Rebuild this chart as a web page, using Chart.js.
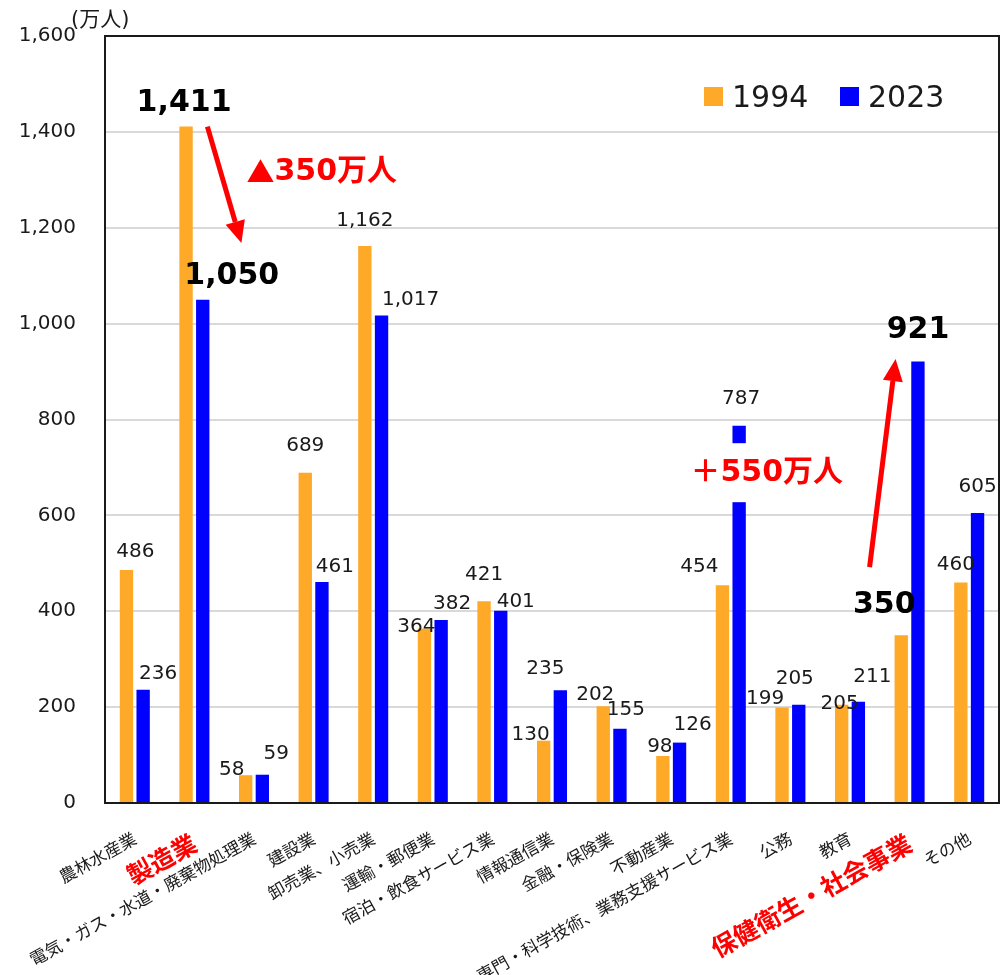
<!DOCTYPE html>
<html>
<head>
<meta charset="utf-8">
<script src="https://cdn.jsdelivr.net/npm/chart.js@4.4.1/dist/chart.umd.min.js"></script>
<style>
  html, body { margin: 0; padding: 0; background: #fff; }
</style>
</head>
<body>
<canvas id="c" width="1001" height="975"></canvas>
<script>
// 産業別就業者数（万人）
const industries = [
  '農林水産業', '製造業', '電気・ガス・水道・廃棄物処理業', '建設業', '卸売業、小売業',
  '運輸・郵便業', '宿泊・飲食サービス業', '情報通信業', '金融・保険業', '不動産業',
  '専門・科学技術、業務支援サービス業', '公務', '教育', '保健衛生・社会事業', 'その他'
];
const seriesNames = ['1994', '2023'];
const workers1994 = [486, 1411, 58, 689, 1162, 364, 421, 130, 202, 98, 454, 199, 205, 350, 460];
const workers2023 = [236, 1050, 59, 461, 1017, 382, 401, 235, 155, 126, 787, 205, 211, 921, 605];
const highlightedIndustries = ['製造業', '保健衛生・社会事業'];
const yTickValues = [0, 200, 400, 600, 800, 1000, 1200, 1400, 1600];
const unitLabel = '(万人)';
const decreaseNote = ['▲', '350万人'];
const increaseNote = '＋550万人';

// value-label nudges [dx, dy above bar top] so neighbouring labels don't collide
const labelNudge1994 = [[9,20],[-2,27],[-14,7],[0,29],[0,27],[-8,4],[0,28],[-13,8],[-8,13],[-3,11],[-23,21],[-17,11],[-2,3],[-17,33],[-5,20]];
const labelNudge2023 = [[15,18],[29,27],[14,23],[13,17],[29,18],[11,18],[15,11],[-15,24],[6,21],[13,20],[2,29],[-4,28],[14,27],[0,34],[0,28]];

const ORANGE = '#FFA929';
const BLUE = '#0000FF';
const RED = '#FF0000';
const INK = '#1a1a1a';
const NUM_FONT = '"DejaVu Sans", "Noto Sans CJK JP", sans-serif';
const JP_FONT = '"Noto Sans CJK JP", "DejaVu Sans", sans-serif';

const isHighlighted = i => highlightedIndustries.includes(industries[i]);

function arrow(ctx, x1, y1, x2, y2) {
  const ang = Math.atan2(y2 - y1, x2 - x1);
  const headLen = 22, headHalf = 10;
  const bx = x2 - headLen * Math.cos(ang), by = y2 - headLen * Math.sin(ang);
  ctx.strokeStyle = RED; ctx.fillStyle = RED; ctx.lineWidth = 5;
  ctx.beginPath(); ctx.moveTo(x1, y1); ctx.lineTo(bx, by); ctx.stroke();
  ctx.beginPath();
  ctx.moveTo(x2, y2);
  ctx.lineTo(bx + headHalf * Math.sin(ang), by - headHalf * Math.cos(ang));
  ctx.lineTo(bx - headHalf * Math.sin(ang), by + headHalf * Math.cos(ang));
  ctx.closePath(); ctx.fill();
}

const overlay = {
  id: 'overlay',
  afterDatasetsDraw(chart) {
    const { ctx, chartArea: a, scales: { x, y } } = chart;
    ctx.save();

    // plot frame
    ctx.strokeStyle = INK; ctx.lineWidth = 2;
    ctx.strokeRect(a.left, a.top, a.right - a.left, a.bottom - a.top);

    // white patch behind the growth note
    const manufIdx = industries.indexOf('製造業');
    const healthIdx = industries.indexOf('保健衛生・社会事業');
    const proIdx = industries.indexOf('専門・科学技術、業務支援サービス業');
    const noteX = x.getPixelForValue(proIdx) + 36, noteY = y.getPixelForValue(688);
    ctx.fillStyle = '#fff';
    ctx.fillRect(noteX - 80, noteY - 30, 160, 59);

    // value labels
    const nudges = [labelNudge1994, labelNudge2023];
    chart.data.datasets.forEach((ds, di) => {
      const meta = chart.getDatasetMeta(di);
      meta.data.forEach((bar, i) => {
        const [dx, dy] = nudges[di][i];
        const big = isHighlighted(i);
        const size = big ? 30 : 20;
        ctx.font = (big ? 'bold ' : '') + size + 'px ' + NUM_FONT;
        ctx.fillStyle = big ? '#000' : INK;
        ctx.textAlign = 'center'; ctx.textBaseline = 'alphabetic';
        ctx.fillText(ds.data[i].toLocaleString('en-US'), bar.x + dx, bar.y - dy + size * 0.365);
      });
    });

    // change arrows
    const xm = x.getPixelForValue(manufIdx), xh = x.getPixelForValue(healthIdx);
    arrow(ctx, xm + 13, y.getPixelForValue(workers1994[manufIdx]), xm + 47, y.getPixelForValue(1168));
    arrow(ctx, xh - 40, y.getPixelForValue(492), xh - 14, y.getPixelForValue(926));

    // change notes
    ctx.fillStyle = RED;
    ctx.textBaseline = 'middle';
    ctx.textAlign = 'left';
    const dnY = y.getPixelForValue(1316);
    ctx.font = 'bold 28px ' + JP_FONT;
    ctx.fillText(decreaseNote[0], xm + 52, dnY);
    const triW = ctx.measureText(decreaseNote[0]).width;
    ctx.font = 'bold 30px ' + NUM_FONT;
    ctx.fillText(decreaseNote[1], xm + 52 + triW, dnY);
    ctx.textAlign = 'center';
    ctx.fillText(increaseNote, noteX, noteY);

    // legend
    const legendX = [a.right - 295, a.right - 159];
    chart.data.datasets.forEach((ds, di) => {
      const lx = legendX[di], ly = 87;
      ctx.fillStyle = ds.backgroundColor;
      ctx.fillRect(lx, ly, 19, 19);
      ctx.fillStyle = INK;
      ctx.font = '30px ' + NUM_FONT;
      ctx.textAlign = 'left'; ctx.textBaseline = 'alphabetic';
      ctx.fillText(ds.label, lx + 28, ly + 20);
    });

    // unit
    ctx.font = '21px ' + NUM_FONT;
    ctx.fillStyle = INK;
    ctx.textAlign = 'left'; ctx.textBaseline = 'middle';
    ctx.fillText(unitLabel, 71, 21);

    ctx.restore();
  }
};

new Chart(document.getElementById('c'), {
  type: 'bar',
  data: {
    labels: industries,
    datasets: [
      { label: seriesNames[0], data: workers1994, backgroundColor: ORANGE },
      { label: seriesNames[1], data: workers2023, backgroundColor: BLUE }
    ]
  },
  options: {
    responsive: false,
    animation: false,
    devicePixelRatio: 1,
    layout: { padding: { top: 36, right: 2, left: 0, bottom: 0 } },
    datasets: { bar: { categoryPercentage: 0.56, barPercentage: 0.8 } },
    plugins: { legend: { display: false }, tooltip: { enabled: false } },
    scales: {
      x: {
        grid: { display: false, drawTicks: false },
        border: { color: INK, width: 2 },
        ticks: {
          autoSkip: false,
          minRotation: 29, maxRotation: 29,
          padding: 25,
          color: ctx => isHighlighted(ctx.index) ? RED : INK,
          font: ctx => isHighlighted(ctx.index)
            ? { family: JP_FONT, size: 25, weight: 'bold' }
            : { family: JP_FONT, size: 17 }
        },
        afterFit: s => { s.height = 172; s.paddingLeft = 0; s.paddingRight = 0; }
      },
      y: {
        min: yTickValues[0], max: yTickValues[yTickValues.length - 1],
        grid: { color: '#d9d9d9', lineWidth: 2, drawTicks: false },
        border: { color: INK, width: 2 },
        afterBuildTicks: s => { s.ticks = yTickValues.map(v => ({ value: v })); },
        ticks: {
          padding: 29,
          color: INK,
          font: { family: NUM_FONT, size: 20 },
          callback: v => v.toLocaleString('en-US')
        },
        afterFit: s => { s.width = 105; s.paddingTop = 0; s.paddingBottom = 0; }
      }
    }
  },
  plugins: [overlay]
});
</script>
</body>
</html>
